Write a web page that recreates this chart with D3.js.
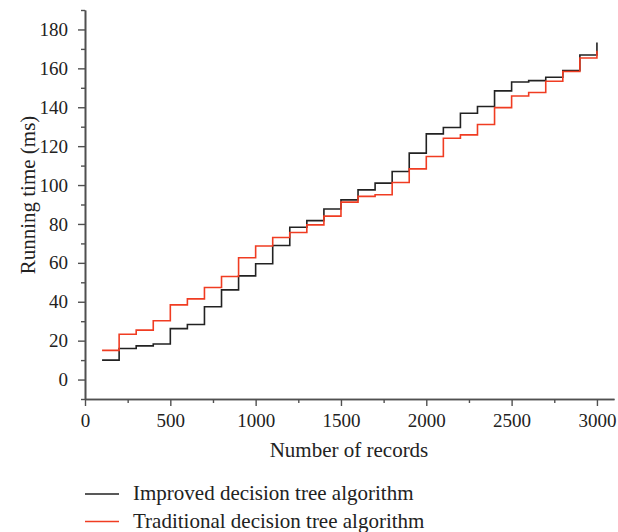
<html>
<head>
    <meta content="text/html;charset=utf-8" http-equiv="Content-Type"/>
    <style>
        body { margin: 0; background: #fff; }
        text { font-family: "Liberation Serif", serif; fill: #222; }
    </style>
</head>
<body>

<svg width="618" height="532">
    <g id="axes"></g>
    <g id="lines"></g>
    <g id="legend"></g>
</svg>

<script src="https://d3js.org/d3.v7.min.js"></script>
<script>
    // number of records (x) and running time in ms for the two algorithms
    const records = [100, 200, 300, 400, 500, 600, 700, 800, 900, 1000,
        1100, 1200, 1300, 1400, 1500, 1600, 1700, 1800, 1900, 2000,
        2100, 2200, 2300, 2400, 2500, 2600, 2700, 2800, 2900, 3000];
    const improved = [10, 16, 17.3, 18.3, 26.2, 28.3, 37.4, 46.1, 53.3, 59.5,
        68.9, 78.3, 81.7, 87.7, 92.4, 97.5, 101, 107, 116.4, 126.3,
        129.6, 136.9, 140.4, 148.4, 153, 153.7, 155.4, 158.9, 166.9, 173.3];
    const traditional = [15, 23.3, 25.4, 30.2, 38.4, 41.5, 47.3, 53, 62.6, 68.7,
        73, 75.6, 79.5, 84, 91.2, 94.2, 95, 101.3, 108.3, 114.7,
        124.1, 125.8, 131.1, 139.8, 145.8, 147.6, 153.4, 158.4, 165.3, 169];

    const xTicks = [0, 500, 1000, 1500, 2000, 2500, 3000];
    const xMinor = [250, 750, 1250, 1750, 2250, 2750];
    const yTicks = [0, 20, 40, 60, 80, 100, 120, 140, 160, 180];
    const yMinor = [-10, 10, 30, 50, 70, 90, 110, 130, 150, 170, 190];

    const seriesNames = ["Improved decision tree algorithm", "Traditional decision tree algorithm"];
    const seriesColors = ["#222222", "#f03c22"];

    const x = d3.scaleLinear().domain([0, 3100]).range([85, 614]);
    const y = d3.scaleLinear().domain([-10, 190]).range([399, 10]);

    const axisColor = "#505050";
    let svg = d3.select("svg");
    let axes = svg.select("#axes");

    // x axis
    let xg = axes.append("g").attr("transform", "translate(0," + y(-10) + ")");
    xg.call(d3.axisBottom(x).tickValues(xTicks).tickFormat(d3.format("d"))
        .tickSize(7).tickSizeOuter(0).tickPadding(8));
    xg.append("g").call(d3.axisBottom(x).tickValues(xMinor).tickSize(4).tickSizeOuter(0).tickFormat(""));

    // y axis
    let yg = axes.append("g").attr("transform", "translate(" + x(0) + ",0)");
    yg.call(d3.axisLeft(y).tickValues(yTicks).tickFormat(d3.format("d"))
        .tickSize(7).tickSizeOuter(0).tickPadding(10));
    yg.append("g").call(d3.axisLeft(y).tickValues(yMinor).tickSize(4).tickSizeOuter(0).tickFormat(""));

    axes.selectAll(".domain").attr("stroke", axisColor).attr("stroke-width", 1.6);
    axes.selectAll(".tick line").attr("stroke", axisColor).attr("stroke-width", 1.4);
    axes.selectAll(".tick text")
        .attr("font-family", "Liberation Serif")
        .attr("font-size", 19)
        .attr("fill", "#333");

    axes.append("text")
        .attr("x", 349)
        .attr("y", 457)
        .attr("text-anchor", "middle")
        .attr("font-size", 21)
        .text("Number of records");

    axes.append("text")
        .attr("transform", "translate(35," + 195 + ") rotate(-90)")
        .attr("text-anchor", "middle")
        .attr("font-size", 21)
        .text("Running time (ms)");

    // step lines
    const line = d3.line()
        .x(function(d) { return x(d[0]); })
        .y(function(d) { return y(d[1]); })
        .curve(d3.curveStepAfter);

    const series = [improved, traditional];
    svg.select("#lines")
        .selectAll("path")
        .data(series)
        .enter()
        .append("path")
        .attr("d", function(vals) {
            return line(records.map(function(r, i) { return [r, vals[i]]; }));
        })
        .attr("fill", "none")
        .attr("stroke", function(d, i) { return seriesColors[i]; })
        .attr("stroke-width", 1.6);

    // legend
    let legend = svg.select("#legend")
        .selectAll("g")
        .data(seriesNames)
        .enter()
        .append("g")
        .attr("transform", function(d, i) { return "translate(0," + (494 + i * 27.5) + ")"; });
    legend.append("line")
        .attr("x1", 85).attr("x2", 119)
        .attr("y1", 0).attr("y2", 0)
        .attr("stroke", function(d, i) { return seriesColors[i]; })
        .attr("stroke-width", 1.3);
    legend.append("text")
        .attr("x", 133)
        .attr("y", 6)
        .attr("font-size", 21)
        .text(function(d) { return d; });
</script>

</body>
</html>
